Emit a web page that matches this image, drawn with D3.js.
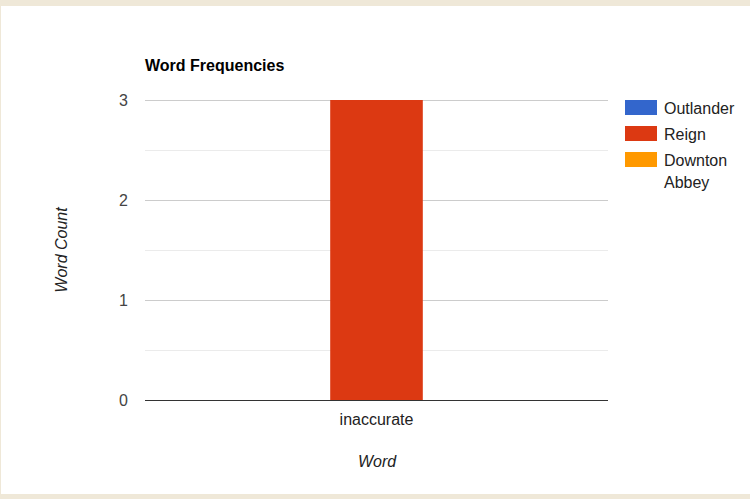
<!DOCTYPE html>
<html>
<head>
<meta charset="utf-8">
<script src="https://cdn.jsdelivr.net/npm/d3@7"></script>
<style>
  html, body { margin: 0; padding: 0; background: #efe8d8; }
  #chart { position: absolute; left: 1px; top: 6px; width: 749px; height: 488px; background: #fff; }
  text { font-family: Arial, "Liberation Sans", sans-serif; }
</style>
</head>
<body>
<div id="chart"></div>
<script>
// chart data
var words = ["inaccurate"];
var seriesNames = ["Outlander", "Reign", "Downton Abbey"];
var seriesColors = ["#3366cc", "#dc3912", "#ff9900"];
var outlanderCounts = [0];
var reignCounts = [3];
var downtonCounts = [0];
var yTicks = [0, 1, 2, 3];

var seriesValues = [outlanderCounts, reignCounts, downtonCounts];

// plot area, page coords minus the white box offset
var ox = 1, oy = 6;
var plotLeft = 145 - ox, plotRight = 608 - ox, plotTop = 100 - oy, plotBottom = 400 - oy;
var fontSize = 16;

var svg = d3.select("#chart").append("svg")
  .attr("width", 749)
  .attr("height", 488);

var x = d3.scaleBand().domain(words).range([plotLeft, plotRight]);
// google style: the group takes ~60% of the band
var groupWidth = x.bandwidth() * 0.6;
var xs = d3.scaleBand().domain(seriesNames).range([0, groupWidth]);
var y = d3.scaleLinear().domain([0, 3]).range([plotBottom, plotTop]);

function py(d) { return Math.round(y(d)) + 0.5; }

// minor gridlines at half steps
svg.append("g").selectAll("line").data(d3.range(0.5, 3, 1)).enter().append("line")
  .attr("x1", plotLeft).attr("x2", plotRight)
  .attr("y1", py).attr("y2", py)
  .attr("stroke", "#ebebeb");

// major gridlines
svg.append("g").selectAll("line").data(yTicks.filter(function(d) { return d > 0; })).enter().append("line")
  .attr("x1", plotLeft).attr("x2", plotRight)
  .attr("y1", py).attr("y2", py)
  .attr("stroke", "#cccccc");

// y tick labels
svg.append("g").selectAll("text").data(yTicks).enter().append("text")
  .attr("x", 128 - ox)
  .attr("y", function(d) { return y(d) + 6; })
  .attr("text-anchor", "end")
  .attr("font-size", fontSize)
  .attr("fill", "#444")
  .text(function(d) { return d; });

// bars
words.forEach(function(w, i) {
  var g0 = x(w) + (x.bandwidth() - groupWidth) / 2;
  seriesNames.forEach(function(s, j) {
    var v = seriesValues[j][i];
    if (v <= 0) return;
    svg.append("rect")
      .attr("x", g0 + xs(s))
      .attr("y", y(v))
      .attr("width", xs.bandwidth())
      .attr("height", y(0) - y(v))
      .attr("fill", seriesColors[j]);
  });
});

// baseline
svg.append("line")
  .attr("x1", plotLeft).attr("x2", plotRight)
  .attr("y1", py(0)).attr("y2", py(0))
  .attr("stroke", "#333");

// x tick labels
svg.append("g").selectAll("text").data(words).enter().append("text")
  .attr("x", function(d) { return x(d) + x.bandwidth() / 2; })
  .attr("y", 425 - oy)
  .attr("text-anchor", "middle")
  .attr("font-size", fontSize)
  .attr("fill", "#222")
  .text(function(d) { return d; });

// title
svg.append("text")
  .attr("x", 145 - ox)
  .attr("y", 71 - oy)
  .attr("font-size", fontSize)
  .attr("font-weight", "bold")
  .attr("fill", "#000")
  .text("Word Frequencies");

// axis titles
svg.append("text")
  .attr("x", 377 - ox)
  .attr("y", 467 - oy)
  .attr("text-anchor", "middle")
  .attr("font-size", fontSize)
  .attr("font-style", "italic")
  .attr("fill", "#222")
  .text("Word");

svg.append("text")
  .attr("transform", "translate(" + (67 - ox) + "," + (250 - oy) + ") rotate(-90)")
  .attr("text-anchor", "middle")
  .attr("font-size", fontSize)
  .attr("font-style", "italic")
  .attr("fill", "#222")
  .text("Word Count");

// legend, last entry wraps onto two lines
var legendLines = [["Outlander"], ["Reign"], ["Downton", "Abbey"]];
var legend = svg.append("g");
seriesNames.forEach(function(s, j) {
  var ly = 100 - oy + j * 26;
  legend.append("rect")
    .attr("x", 625 - ox).attr("y", ly)
    .attr("width", 32).attr("height", 15)
    .attr("fill", seriesColors[j]);
  legendLines[j].forEach(function(line, k) {
    legend.append("text")
      .attr("x", 664 - ox)
      .attr("y", ly + 14 + k * 22)
      .attr("font-size", fontSize)
      .attr("fill", "#222")
      .text(line);
  });
});
</script>
</body>
</html>
